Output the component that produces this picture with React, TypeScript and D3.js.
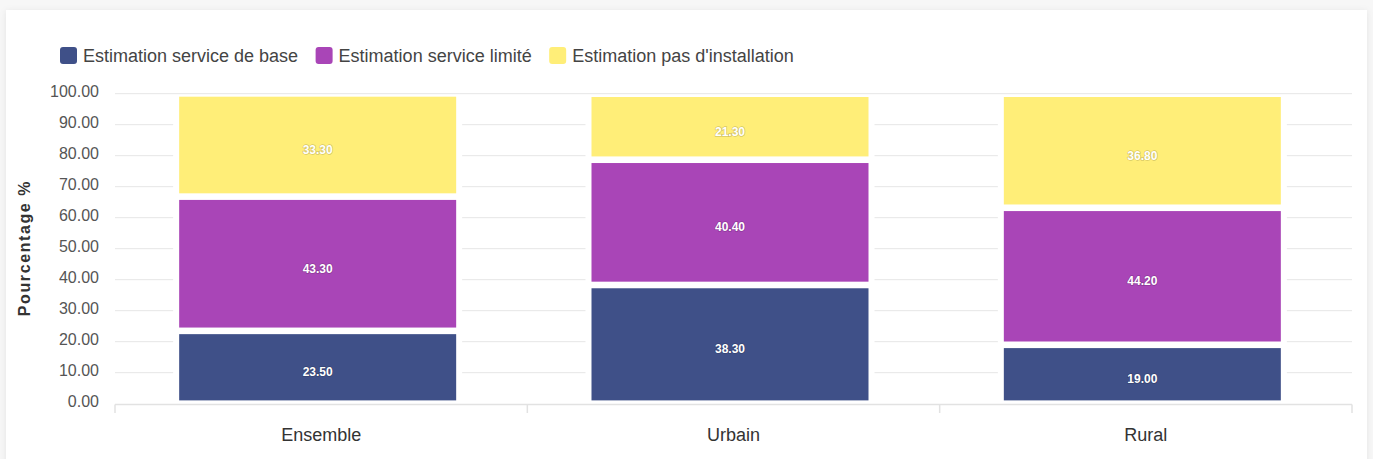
import React, { useEffect, useRef } from "react";
import * as d3 from "d3";

const categories = ["Ensemble", "Urbain", "Rural"];
const seriesNames = [
  "Estimation service de base",
  "Estimation service limité",
  "Estimation pas d'installation",
];
const serviceBase = [23.5, 38.3, 19.0];
const serviceLimite = [43.3, 40.4, 44.2];
const pasInstallation = [33.3, 21.3, 36.8];
const seriesColors = ["#3f5088", "#a945b7", "#ffee78"];
const yTicks = [0, 10, 20, 30, 40, 50, 60, 70, 80, 90, 100];
const yTitle = "Pourcentage %";

const W = 1373;
const H = 459;

export default function App() {
  const ref = useRef<SVGSVGElement | null>(null);

  useEffect(() => {
    const svg = d3.select(ref.current!);
    svg.selectAll("*").remove();

    const defs = svg.append("defs");
    const f = defs
      .append("filter")
      .attr("id", "shadow")
      .attr("x", "-5%")
      .attr("y", "-5%")
      .attr("width", "110%")
      .attr("height", "120%");
    f.append("feDropShadow")
      .attr("dx", 0)
      .attr("dy", 1)
      .attr("stdDeviation", 3)
      .attr("flood-color", "#000")
      .attr("flood-opacity", 0.08);

    svg.append("rect").attr("width", W).attr("height", H).attr("fill", "#f7f7f7");
    svg
      .append("rect")
      .attr("x", 6)
      .attr("y", 10)
      .attr("width", 1361)
      .attr("height", 470)
      .attr("fill", "#fff")
      .attr("filter", "url(#shadow)");

    const x = d3.scaleBand<string>().domain(categories).range([115, 1352]).padding(0);
    const y = d3.scaleLinear().domain([0, 100]).range([403.7, 93.7]);
    const barOffset = -3.5;

    const g = svg.append("g");
    g.selectAll("line.grid")
      .data(yTicks.filter((t) => t > 0))
      .join("line")
      .attr("x1", 115)
      .attr("x2", 1352)
      .attr("y1", (d) => y(d))
      .attr("y2", (d) => y(d))
      .attr("stroke", "#e6e6e6")
      .attr("stroke-width", 1);

    g.selectAll("text.ylab")
      .data(yTicks)
      .join("text")
      .attr("x", 99)
      .attr("y", (d) => y(d) - 2.5)
      .attr("text-anchor", "end")
      .attr("dominant-baseline", "central")
      .attr("font-family", "'Liberation Sans', Arial, sans-serif")
      .attr("font-size", 16)
      .attr("fill", "#555")
      .text((d) => d3.format(".2f")(d));

    g.append("text")
      .attr("transform", `translate(30,248) rotate(-90)`)
      .attr("text-anchor", "middle")
      .attr("font-family", "'Liberation Sans', Arial, sans-serif")
      .attr("font-size", 16)
      .attr("font-weight", "bold")
      .attr("letter-spacing", 1.6)
      .attr("fill", "#333")
      .text(yTitle);

    g.append("line")
      .attr("x1", 115)
      .attr("x2", 1352)
      .attr("y1", 404.5)
      .attr("y2", 404.5)
      .attr("stroke", "#e2e2e2")
      .attr("stroke-width", 1.5);
    const boundaries = [...categories.map((c) => x(c)!), 1352];
    g.selectAll("line.tick")
      .data(boundaries)
      .join("line")
      .attr("x1", (d) => d)
      .attr("x2", (d) => d)
      .attr("y1", 404.5)
      .attr("y2", 413)
      .attr("stroke", "#e2e2e2")
      .attr("stroke-width", 1.5);

    g.selectAll("text.cat")
      .data(categories)
      .join("text")
      .attr("x", (d) => x(d)! + x.bandwidth() / 2)
      .attr("y", 435)
      .attr("text-anchor", "middle")
      .attr("dominant-baseline", "central")
      .attr("font-family", "'Liberation Sans', Arial, sans-serif")
      .attr("font-size", 18)
      .attr("fill", "#333")
      .text((d) => d);

    const seriesValues = [serviceBase, serviceLimite, pasInstallation];
    const rows = categories.map((c, i) => {
      const o: any = { cat: c };
      seriesNames.forEach((s, k) => (o[s] = seriesValues[k][i]));
      return o;
    });
    const stack = d3.stack<any>().keys(seriesNames)(rows);

    const fillHalf = 138.5;
    const backHalf = 144.5;
    const cxOf = (cat: string) => x(cat)! + x.bandwidth() / 2 + barOffset;

    g.selectAll("rect.back")
      .data(rows)
      .join("rect")
      .attr("x", (d) => cxOf(d.cat) - backHalf)
      .attr("width", backHalf * 2)
      .attr("y", (d, i) => y(stack[stack.length - 1][i][1]) + 1.5)
      .attr("height", (d, i) => y(0) - 1.5 - (y(stack[stack.length - 1][i][1]) + 1.5))
      .attr("fill", "#fff");

    stack.forEach((layer, k) => {
      const lg = g.append("g");
      lg.selectAll("rect")
        .data(layer)
        .join("rect")
        .attr("x", (d) => cxOf(d.data.cat) - fillHalf)
        .attr("width", fillHalf * 2)
        .attr("y", (d) => y(d[1]) + 3.3)
        .attr("height", (d) => y(d[0]) - y(d[1]) - 6.6)
        .attr("fill", seriesColors[k]);
      lg.selectAll("text")
        .data(layer)
        .join("text")
        .attr("x", (d) => cxOf(d.data.cat))
        .attr("y", (d) => (y(d[0]) + y(d[1])) / 2 + 5)
        .attr("text-anchor", "middle")
        .attr("dominant-baseline", "central")
        .attr("font-family", "'Liberation Sans', Arial, sans-serif")
        .attr("font-size", 12)
        .attr("font-weight", "bold")
        .attr("fill", "#fff")
        .attr("stroke", "rgba(0,0,0,0.18)")
        .attr("stroke-width", 1.5)
        .attr("paint-order", "stroke")
        .text((d) => d3.format(".2f")(d[1] - d[0]));
    });

    const leg = svg.append("g");
    let cx = 60;
    seriesNames.forEach((name, k) => {
      leg.append("rect")
        .attr("x", cx)
        .attr("y", 47)
        .attr("width", 17)
        .attr("height", 17)
        .attr("rx", 3)
        .attr("fill", seriesColors[k]);
      const t = leg
        .append("text")
        .attr("x", cx + 23)
        .attr("y", 56)
        .attr("dominant-baseline", "central")
        .attr("font-family", "'Liberation Sans', Arial, sans-serif")
        .attr("font-size", 18)
        .attr("fill", "#444")
        .text(name);
      const w = (t.node() as SVGTextElement).getComputedTextLength();
      cx = cx + 23 + w + 17.5;
    });
  }, []);

  return (
    <svg
      ref={ref}
      width={W}
      height={H}
      style={{ position: "absolute", left: 0, top: 0, display: "block" }}
    />
  );
}
